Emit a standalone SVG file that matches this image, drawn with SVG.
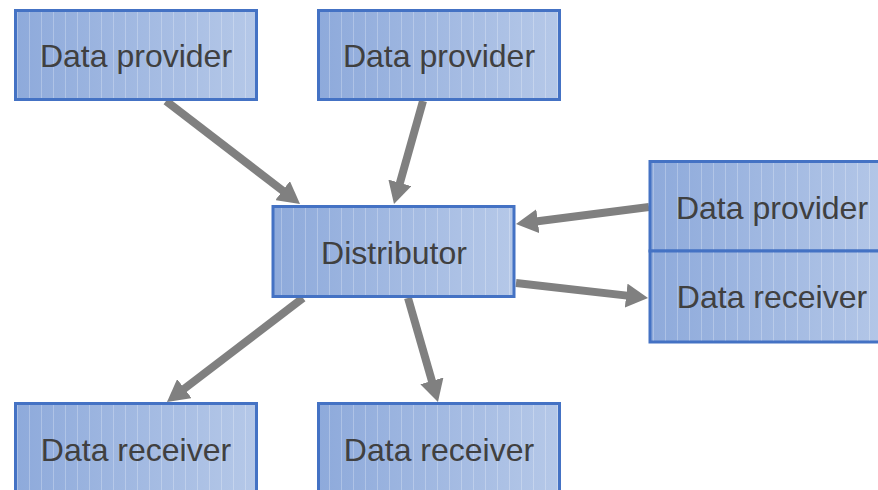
<svg xmlns="http://www.w3.org/2000/svg" width="878" height="490" viewBox="0 0 878 490">
  <style>
    .box { fill: url(#boxFill); stroke: #4472c4; stroke-width: 3; }
    .stripes { fill: url(#stripes); stroke: none; }
    .label { font-family: "Liberation Sans", Arial, sans-serif; font-size: 32px; fill: #404040; text-anchor: middle; }
    .conn { stroke: #808080; stroke-width: 8; fill: none; marker-end: url(#head); }
  </style>
  <defs>
    <linearGradient id="boxFill" x1="0" y1="0" x2="1" y2="0">
      <stop offset="0" stop-color="#8eaadb"/>
      <stop offset="1" stop-color="#b5c8e8"/>
    </linearGradient>
    <!-- faint vertical hatching over the box fill -->
    <pattern id="stripes" patternUnits="userSpaceOnUse" width="12" height="10">
      <rect x="5" y="0" width="1" height="10" fill="#ffffff" fill-opacity="0.25"/>
    </pattern>
    <marker id="head" viewBox="0 0 22 24" markerWidth="22" markerHeight="24" markerUnits="userSpaceOnUse" refX="12" refY="12" orient="auto">
      <path d="M0,0 L22,12 L0,24 z" fill="#808080"/>
    </marker>
  </defs>

  <!-- connectors -->
  <g id="connectors">
    <line class="conn" x1="166" y1="101" x2="292.1" y2="197.9"/>
    <line class="conn" x1="423" y1="101" x2="396.7" y2="194.4"/>
    <line class="conn" x1="649" y1="207" x2="525.9" y2="222.7"/>
    <line class="conn" x1="516" y1="283" x2="638.1" y2="296.9"/>
    <line class="conn" x1="303" y1="298" x2="174.9" y2="395.9"/>
    <line class="conn" x1="408" y1="298" x2="435.2" y2="392.4"/>
  </g>

  <!-- nodes -->
  <g id="provider-top-left">
    <rect class="box" x="15.5" y="10.5" width="241" height="89"/>
    <rect class="stripes" x="17" y="12" width="238" height="86"/>
    <text class="label" x="136" y="67">Data provider</text>
  </g>
  <g id="provider-top-middle">
    <rect class="box" x="318.5" y="10.5" width="241" height="89"/>
    <rect class="stripes" x="320" y="12" width="238" height="86"/>
    <text class="label" x="439" y="67">Data provider</text>
  </g>
  <g id="distributor">
    <rect class="box" x="273" y="206.5" width="241" height="90"/>
    <rect class="stripes" x="274.5" y="208" width="238" height="87"/>
    <text class="label" x="394" y="264">Distributor</text>
  </g>
  <g id="provider-right">
    <rect class="box" x="650" y="161.5" width="246" height="89.5"/>
    <rect class="stripes" x="651.5" y="163" width="243" height="86.5"/>
    <text class="label" x="772" y="219">Data provider</text>
  </g>
  <g id="receiver-right">
    <rect class="box" x="650" y="251" width="246" height="91"/>
    <rect class="stripes" x="651.5" y="252.5" width="243" height="88"/>
    <text class="label" x="772" y="308">Data receiver</text>
  </g>
  <g id="receiver-bottom-left">
    <rect class="box" x="15.5" y="403.5" width="241" height="100"/>
    <rect class="stripes" x="17" y="405" width="238" height="97"/>
    <text class="label" x="136" y="461">Data receiver</text>
  </g>
  <g id="receiver-bottom-middle">
    <rect class="box" x="318.5" y="403.5" width="241" height="100"/>
    <rect class="stripes" x="320" y="405" width="238" height="97"/>
    <text class="label" x="439" y="461">Data receiver</text>
  </g>
</svg>
